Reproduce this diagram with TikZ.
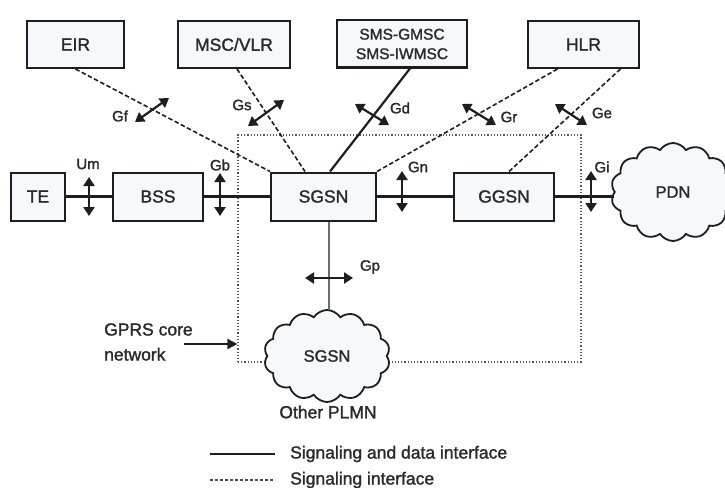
\documentclass[tikz,border=0pt]{standalone}
\usepackage{fontspec}
\setmainfont{Liberation Sans}[UprightFeatures={FakeBold=1.5}]
\usetikzlibrary{arrows.meta,shapes.symbols,calc}
\definecolor{ink}{HTML}{1E1E1E}
\definecolor{txt}{HTML}{2A2A2A}
\definecolor{boxfill}{HTML}{F6F9FB}
\begin{document}
\begin{tikzpicture}[x=1pt,y=-1pt,
  box/.style={draw=ink,line width=2pt,fill=boxfill,inner sep=0pt,
    minimum height=47pt,text=txt,font=\fontsize{17.5}{19}\selectfont},
  lbl/.style={text=txt,font=\fontsize{15}{16}\selectfont,inner sep=0pt},
  link/.style={draw=ink,line width=2.2pt},
  sig/.style={draw=ink,line width=1.6pt,dash pattern=on 4.5pt off 2.5pt},
  iface/.style={draw=ink,line width=2.2pt,{Triangle[width=11pt,length=9pt]}-{Triangle[width=11pt,length=9pt]}},
  puff/.style={cloud,draw=ink,line width=1.8pt,fill=boxfill,cloud puffs=14,cloud puff arc=115,text=txt,font=\fontsize{16.5}{18}\selectfont}
]
\useasboundingbox (0,0) rectangle (725,487);

% core network dotted region
\node[draw=ink!75,dotted,line width=1.2pt,minimum width=343pt,minimum height=227pt,inner sep=0pt] (core) at (409.5,248.5) {};

% top boxes
\node[box,minimum width=97pt]  (eir) at (75.5,44.5) {EIR};
\node[box,minimum width=112pt] (msc) at (234,44.5) {MSC/VLR};
\node[box,minimum width=130pt,align=center,font=\fontsize{15.5}{19.5}\selectfont] (sms) at (402,44) {SMS-GMSC\\SMS-IWMSC};
\node[box,minimum width=111pt] (hlr) at (583.5,44.5) {HLR};

% middle row
\node[box,minimum width=54pt,minimum height=48pt]  (te)   at (38,196.5) {TE};
\node[box,minimum width=90pt,minimum height=48pt]  (bss)  at (158,196.5) {BSS};
\node[box,minimum width=105pt,minimum height=48pt] (sgsn) at (323.5,196.5) {SGSN};
\node[box,minimum width=100pt,minimum height=48pt] (ggsn) at (504,196.5) {GGSN};
\node[puff,minimum width=124pt,minimum height=98pt,aspect=1.3] (pdn) at (673,192) {PDN};

% other PLMN cloud
\node[puff,minimum width=126pt,minimum height=92pt,aspect=1.4] (osgsn) at (327,356) {SGSN};
\node[lbl,font=\fontsize{17.5}{19}\selectfont] (plmn) at (328,412) {Other PLMN};

% data links
\draw[link] (te) -- (bss);
\draw[link] (bss) -- (sgsn);
\draw[link] (sgsn) -- (ggsn);
\draw[link] (ggsn.east) -- (ggsn.east -| pdn.west);
\draw[draw=ink,line width=1.2pt] ([xshift=5.5pt]sgsn.south) -- ([xshift=2pt]osgsn.north);
\draw[link] ([xshift=8pt]sms.south) -- ([xshift=6.5pt]sgsn.north);

% signalling links
\draw[sig] (eir.south) -- (sgsn.north west);
\draw[sig] ([xshift=3pt]msc.south) -- ([xshift=-18.5pt]sgsn.north);
\draw[sig] ([xshift=-26pt]hlr.south) -- (sgsn.north east);
\draw[sig] ([xshift=37pt]hlr.south) -- ([xshift=5pt]ggsn.north);

% interface arrows
\draw[iface] (135,122) -- (169,98);
\node[lbl] (gf) at (120,116) {Gf};
\draw[iface] (248,126) -- (284,100);
\node[lbl] (gs) at (242,105) {Gs};
\draw[iface] (355,104) -- (389,125);
\node[lbl] (gd) at (400,108) {Gd};
\draw[iface] (462,104) -- (496,125);
\node[lbl] (gr) at (509,117) {Gr};
\draw[iface] (555,104) -- (587,125);
\node[lbl] (ge) at (602,113) {Ge};

\draw[iface] (89,177) -- (89,216);
\node[lbl] (um) at (88,164) {Um};
\draw[iface] (220,173) -- (220,216);
\node[lbl] (gb) at (220,165) {Gb};
\draw[iface] (402,171) -- (402,212);
\node[lbl] (gn) at (418,167) {Gn};
\draw[iface] (591,171) -- (591,212);
\node[lbl] (gi) at (602,167) {Gi};
\draw[iface] (305,278) -- (353,278);
\node[lbl] (gp) at (370,267) {Gp};

% GPRS core network label
\node[lbl,align=left,anchor=west,font=\fontsize{17.5}{25}\selectfont] (gprs) at (104,342) {GPRS core\\network};
\draw[draw=ink,line width=1.8pt,-{Triangle[width=10pt,length=10pt]}] (184,344) -- (core.west |- 0,344);

% legend
\coordinate (l1a) at (210,454); \coordinate (l1b) at (275,454);
\coordinate (l2a) at (210,480); \coordinate (l2b) at (275,480);
\draw[draw=ink,line width=1.6pt] (l1a) -- (l1b);
\draw[draw=ink!80,line width=1.2pt,dash pattern=on 3pt off 2pt] (l2a) -- (l2b);
\node[lbl,anchor=west,font=\fontsize{17.5}{19}\selectfont] (leg1) at (290,454) {Signaling and data interface};
\node[lbl,anchor=west,font=\fontsize{17.5}{19}\selectfont] (leg2) at (290,480) {Signaling interface};
\end{tikzpicture}
\end{document}
